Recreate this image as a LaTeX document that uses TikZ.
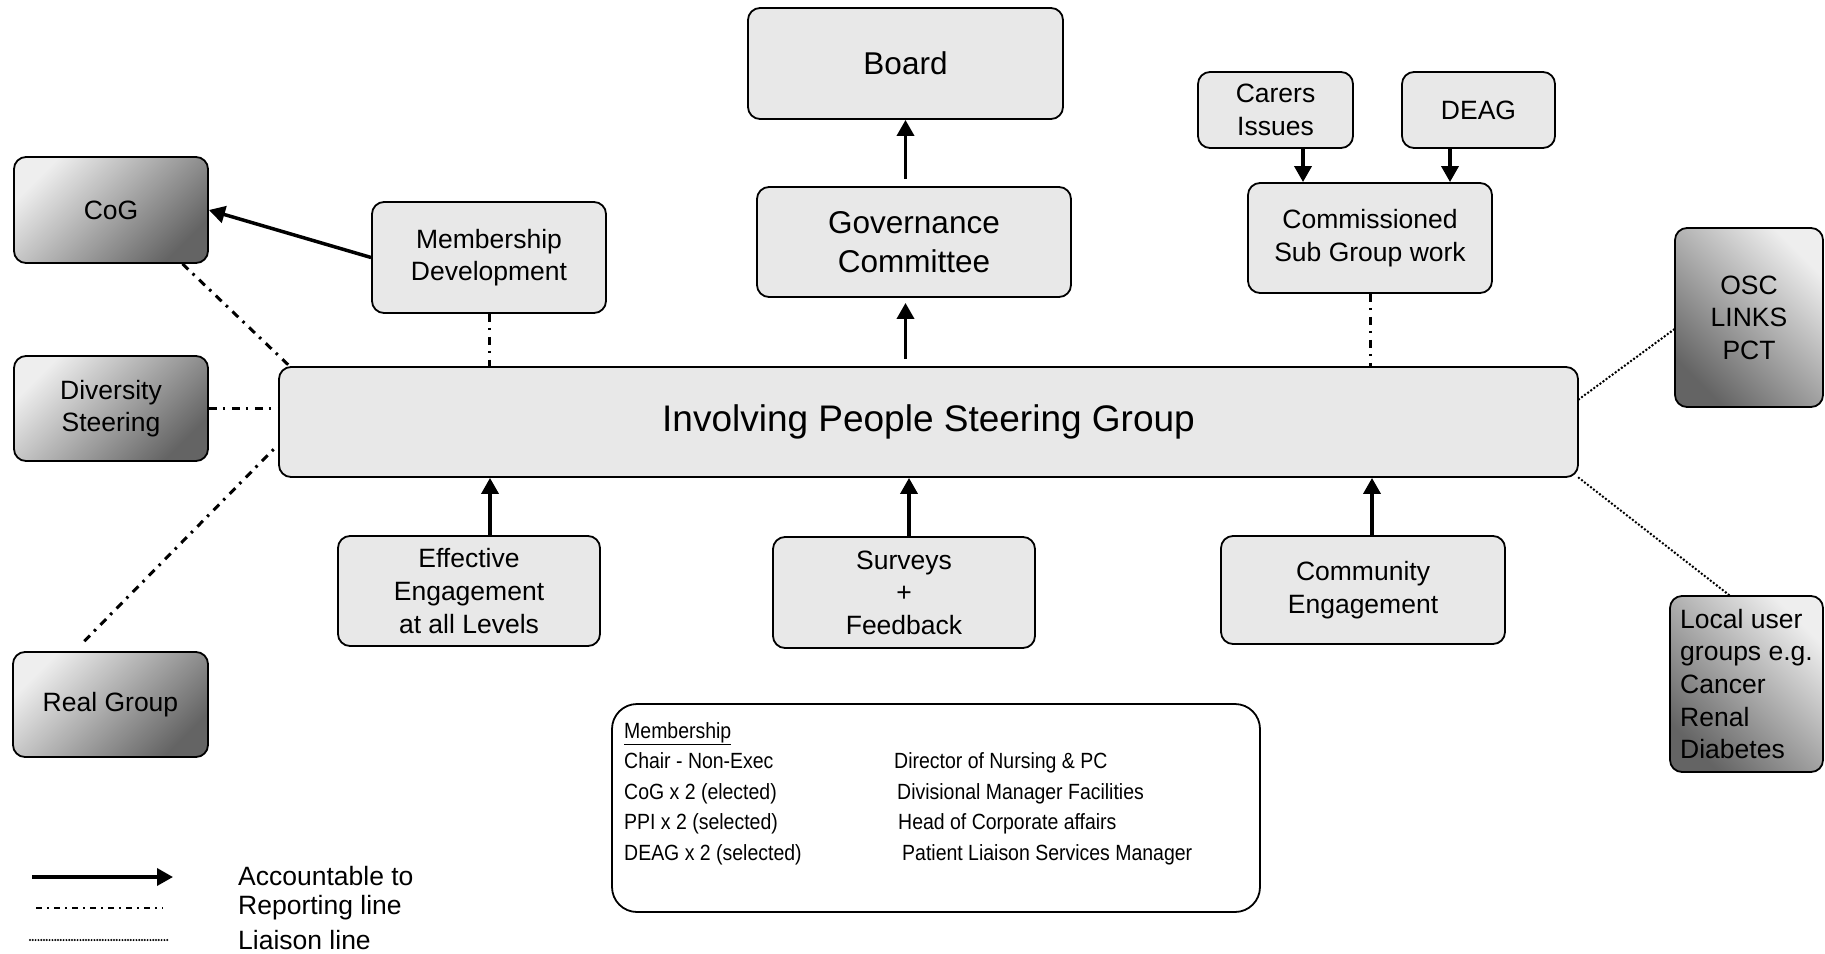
\documentclass[tikz,border=0pt]{standalone}
\usepackage{fontspec}
\setmainfont{Liberation Sans}
\newfontfamily\narrowfont[FakeStretch=0.885]{Liberation Sans}
\usetikzlibrary{arrows.meta}

\definecolor{boxgray}{RGB}{232,232,232}
\definecolor{shadelight}{RGB}{238,238,238}
\definecolor{shadedark}{RGB}{100,100,100}

\tikzset{
  box/.style = {draw, line width = 1.8pt, rounded corners = 12pt, fill = boxgray, align = center, inner sep = 0pt, font = \fontsize{26.5}{32.6}\selectfont},
  darkbox/.style = {box, top color = shadelight, bottom color = shadedark, shading angle = 45},
  acc/.style = {line width = 3.5pt, -{Triangle[length = 16pt, width = 17pt]}},
  report/.style = {line width = 3pt, dash pattern = on 8pt off 6pt on 2.5pt off 6.5pt},
  liaison/.style = {line width = 2.8pt, line cap = round, dash pattern = on 0pt off 3.8pt},
  members/.style = {anchor = base west, inner sep = 0pt, font = \narrowfont\fontsize{22}{26}\selectfont},
  legend/.style = {anchor = west, inner sep = 0pt, font = \fontsize{26.5}{32.6}\selectfont}
}

\begin{document}
\begin{tikzpicture}[x = 1pt, y = -1pt]
      \useasboundingbox (0, 0) rectangle (1825, 953);

      \node [box, minimum width = 315pt, minimum height = 111pt, font = \fontsize{31.5}{39.6}\selectfont] (board) at (905.5, 63.5) {Board};
      \node [box, minimum width = 314pt, minimum height = 110pt, font = \fontsize{31.5}{39.6}\selectfont] (gov) at (914, 242) {Governance\\Committee};
      \node [box, minimum width = 155pt, minimum height = 76pt] (carers) at (1275.5, 110) {Carers\\Issues};
      \node [box, minimum width = 153pt, minimum height = 76pt] (deag) at (1478.5, 110) {DEAG};
      \node [box, minimum width = 244pt, minimum height = 110pt] (subgroup) at (1370, 238) {Commissioned\\Sub Group work};
      \node [darkbox, minimum width = 194pt, minimum height = 106pt] (cog) at (111, 210) {CoG};
      \node [box, minimum width = 234pt, minimum height = 111pt] (memdev) at (489, 257.5) {Membership\\Development};
      \node [darkbox, minimum width = 194pt, minimum height = 105pt] (diversity) at (111, 408.5) {Diversity\\Steering};
      \node [box, minimum width = 1299pt, minimum height = 110pt, font = \fontsize{37}{44}\selectfont] (ipsg) at (928.5, 422) {Involving People Steering Group};
      \node [darkbox, shading angle = -45, minimum width = 148pt, minimum height = 179pt] (osc) at (1749, 317.5) {OSC\\LINKS\\PCT};
      \node [darkbox, shading angle = -45, align = left, minimum width = 153pt, minimum height = 176pt] (usergroups) at (1746.5, 684) {Local user\\groups e.g.\\Cancer\\Renal\\Diabetes};
      \node [box, minimum width = 262pt, minimum height = 110pt] (effeng) at (469, 591) {Effective\\Engagement\\at all Levels};
      \node [box, minimum width = 262pt, minimum height = 111pt] (surveys) at (904, 592.5) {Surveys\\+\\Feedback};
      \node [box, minimum width = 284pt, minimum height = 108pt] (comeng) at (1363, 590) {Community\\Engagement};
      \node [darkbox, minimum width = 195pt, minimum height = 105pt] (real) at (110.5, 704.5) {Real Group};

      \node [draw, line width = 1.8pt, rounded corners = 25pt, minimum width = 648pt, minimum height = 208pt] (membox) at (936, 808) {};
      \node [members] (memhead) at (624, 738) {\underline{Membership}};
      \node [members] (chair) at (624, 768) {Chair - Non-Exec};
      \node [members] (cogmem) at (624, 799) {CoG x 2 (elected)};
      \node [members] (ppimem) at (624, 829) {PPI x 2 (selected)};
      \node [members] (deagmem) at (624, 860) {DEAG x 2 (selected)};
      \node [members] (director) at (894, 768) {Director of Nursing \& PC};
      \node [members] (divmgr) at (897, 799) {Divisional Manager Facilities};
      \node [members] (corphead) at (898, 829) {Head of Corporate affairs};
      \node [members] (liaisonmgr) at (902, 860) {Patient Liaison Services Manager};

      \draw [acc, shorten <= 7pt] (gov.north -| board.south) -- (board.south);
      \draw [acc, shorten <= 7pt, shorten >= 5pt] (ipsg.north -| board.south) -- (gov.south -| board.south);
      \draw [acc] ([xshift = 27.5pt] carers.south) -- ([xshift = 27.5pt] carers.south |- subgroup.north);
      \draw [acc] ([xshift = -28.5pt] deag.south) -- ([xshift = -28.5pt] deag.south |- subgroup.north);
      \draw [acc] (memdev.west) -- (cog.east);
      \draw [acc] ([xshift = 21pt] effeng.north) -- ([xshift = 21pt] effeng.north |- ipsg.south);
      \draw [acc] ([xshift = 5pt] surveys.north) -- ([xshift = 5pt] surveys.north |- ipsg.south);
      \draw [acc] ([xshift = 9pt] comeng.north) -- ([xshift = 9pt] comeng.north |- ipsg.south);

      \draw [report] (cog.323) -- (ipsg.175);
      \draw [report] (diversity.east) -- (diversity.east -| ipsg.west);
      \draw [report, shorten <= 14pt] (real.124) -- (ipsg.182);
      \draw [report] (memdev.south) -- (memdev.south |- ipsg.north);
      \draw [report] (subgroup.south) -- (subgroup.south |- ipsg.north);

      \draw [liaison] (ipsg.2) -- (osc.189);
      \draw [liaison] (ipsg.south east) -- (usergroups.101);

      % legend
      \coordinate (acca) at (32, 877);
      \coordinate (accb) at (173, 877);
      \coordinate (repa) at (36, 908);
      \coordinate (repb) at (163, 908);
      \coordinate (liaa) at (30, 940);
      \coordinate (liab) at (168, 940);
      \draw [acc] (acca) -- (accb);
      \draw [report, line width = 2.4pt, dash pattern = on 6pt off 5pt on 2pt off 5pt] (repa) -- (repb);
      \draw [liaison, line width = 2.2pt, dash pattern = on 0pt off 2.8pt] (liaa) -- (liab);
      \node [legend] (acctext) at (238, 876) {Accountable to};
      \node [legend] (reptext) at (238, 908) {Reporting line};
      \node [legend] (liatext) at (238, 940) {Liaison line};
    \end{tikzpicture}
\end{document}
